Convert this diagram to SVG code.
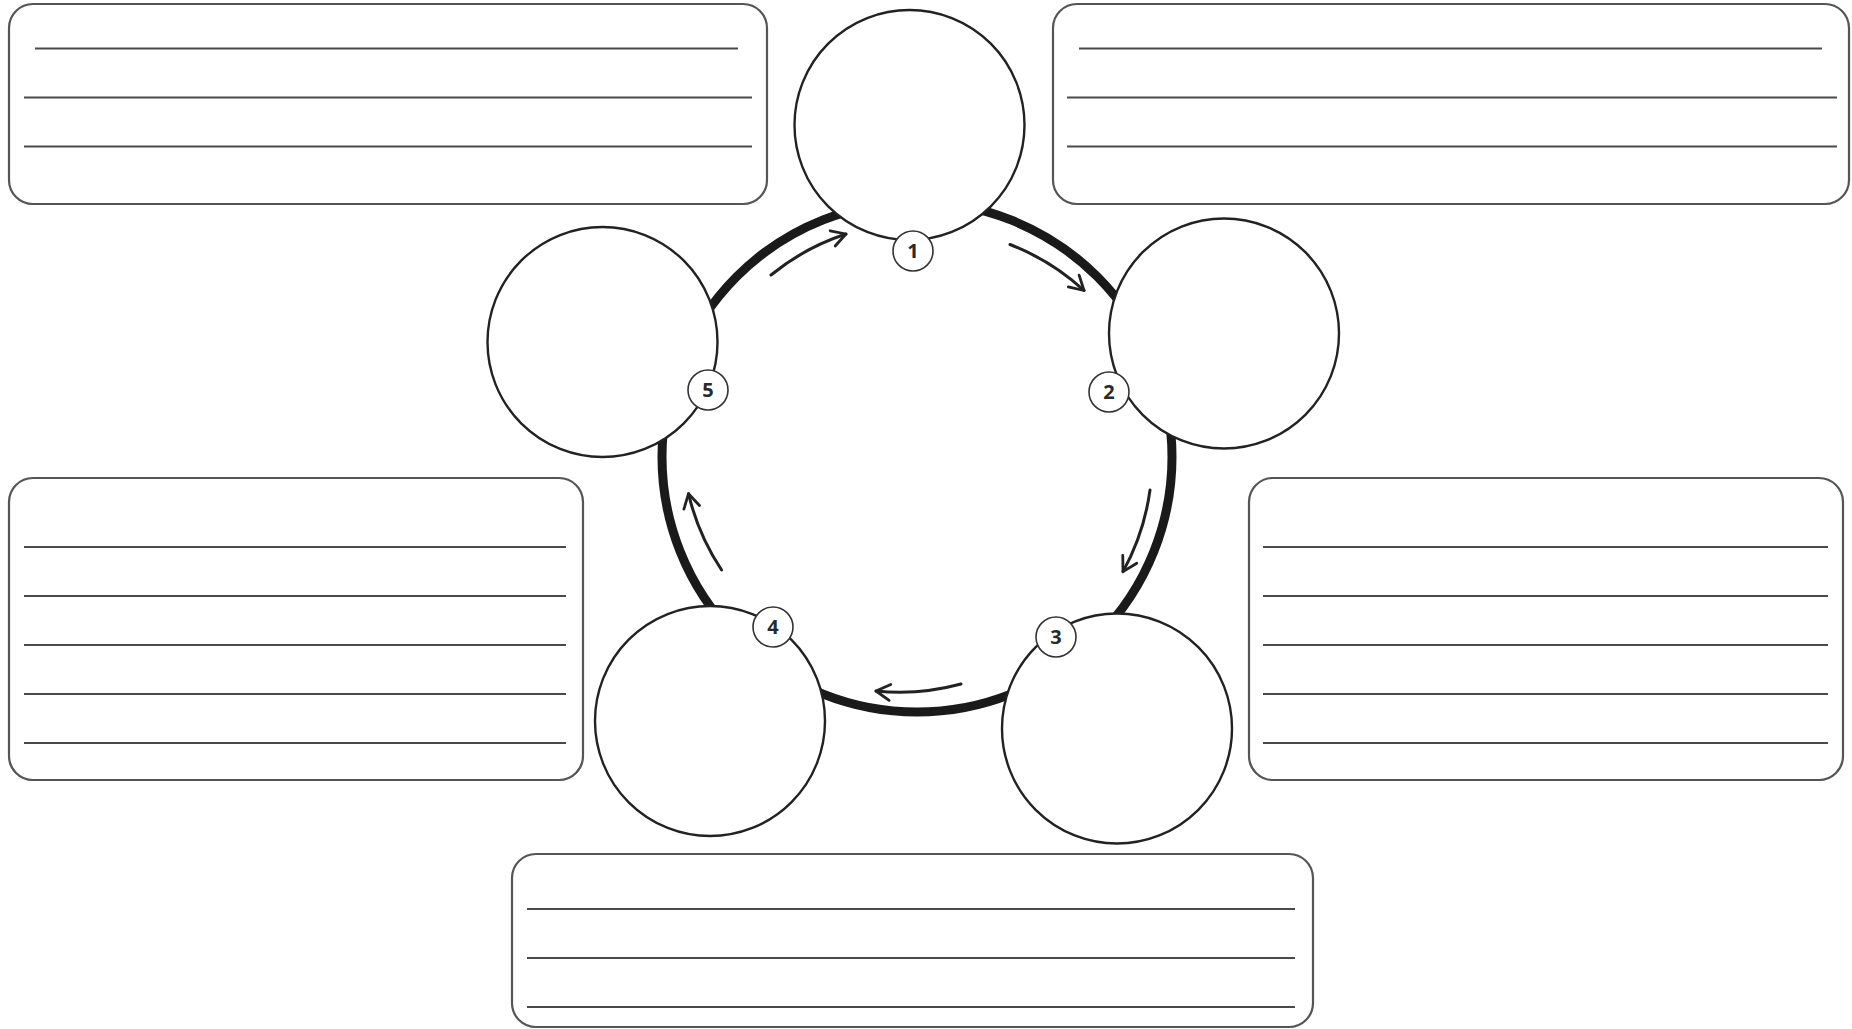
<svg xmlns="http://www.w3.org/2000/svg" width="1852" height="1029" viewBox="0 0 1852 1029">
<style>
.box{fill:#fff;stroke:#555;stroke-width:2.2}
.rule{stroke:#4a4a4a;stroke-width:2.2}
.ring{fill:none;stroke:#1a1a1a;stroke-width:9}
.arr{fill:none;stroke:#222;stroke-width:3;stroke-linecap:round}
.node{fill:#fff;stroke:#222;stroke-width:2.4}
.badge{fill:#fff;stroke:#333;stroke-width:1.6}
.num{font-family:"Open Sans","DejaVu Sans",sans-serif;font-weight:700;font-size:20px;fill:#2a2a2a;text-anchor:middle}
</style>
<defs>
<marker id="head" viewBox="-16 -10 20 20" markerWidth="20" markerHeight="20" refX="0" refY="0" orient="auto" markerUnits="userSpaceOnUse">
<path d="M-14,-8 L0,0 L-14,8" fill="none" stroke="#222" stroke-width="2.8" stroke-linecap="round" stroke-linejoin="round"/>
</marker>
</defs>
<rect width="1852" height="1029" fill="#fff"/>
<g id="box-top-left">
<rect class="box" x="9" y="4" width="758" height="200" rx="24"/>
<line class="rule" x1="35" y1="48.5" x2="738" y2="48.5"/>
<line class="rule" x1="24" y1="97.5" x2="752" y2="97.5"/>
<line class="rule" x1="24" y1="146.5" x2="752" y2="146.5"/>
</g>
<g id="box-top-right">
<rect class="box" x="1053" y="4" width="796" height="200" rx="24"/>
<line class="rule" x1="1079" y1="48.5" x2="1822" y2="48.5"/>
<line class="rule" x1="1067" y1="97.5" x2="1837" y2="97.5"/>
<line class="rule" x1="1067" y1="146.5" x2="1837" y2="146.5"/>
</g>
<g id="box-mid-left">
<rect class="box" x="9" y="478" width="574" height="302" rx="24"/>
<line class="rule" x1="24" y1="547" x2="566" y2="547"/>
<line class="rule" x1="24" y1="596" x2="566" y2="596"/>
<line class="rule" x1="24" y1="645" x2="566" y2="645"/>
<line class="rule" x1="24" y1="694" x2="566" y2="694"/>
<line class="rule" x1="24" y1="743" x2="566" y2="743"/>
</g>
<g id="box-mid-right">
<rect class="box" x="1249" y="478" width="594" height="302" rx="24"/>
<line class="rule" x1="1263" y1="547" x2="1828" y2="547"/>
<line class="rule" x1="1263" y1="596" x2="1828" y2="596"/>
<line class="rule" x1="1263" y1="645" x2="1828" y2="645"/>
<line class="rule" x1="1263" y1="694" x2="1828" y2="694"/>
<line class="rule" x1="1263" y1="743" x2="1828" y2="743"/>
</g>
<g id="box-bottom">
<rect class="box" x="512" y="854" width="801" height="173" rx="24"/>
<line class="rule" x1="527" y1="909" x2="1295" y2="909"/>
<line class="rule" x1="527" y1="958" x2="1295" y2="958"/>
<line class="rule" x1="527" y1="1007" x2="1295" y2="1007"/>
</g>
<g id="connectors">
<circle class="ring" cx="917" cy="457" r="255"/>
<path class="arr" marker-end="url(#head)" d="M771,275 A234,234 0 0 1 846,234"/>
<path class="arr" marker-end="url(#head)" d="M1010,244.5 A234,234 0 0 1 1084,290.5"/>
<path class="arr" marker-end="url(#head)" d="M1150,490 A234,234 0 0 1 1123,571.6"/>
<path class="arr" marker-end="url(#head)" d="M961,684 A234,234 0 0 1 876,691"/>
<path class="arr" marker-end="url(#head)" d="M721.6,570 A234,234 0 0 1 688.5,493.7"/>
</g>
<g id="node-1">
<circle class="node" cx="909.5" cy="125" r="115"/>
<circle class="badge" cx="913" cy="251" r="20"/>
<text class="num" x="913" y="258">1</text>
</g>
<g id="node-2">
<circle class="node" cx="1224" cy="333.5" r="115"/>
<circle class="badge" cx="1109" cy="392" r="20"/>
<text class="num" x="1109" y="399">2</text>
</g>
<g id="node-3">
<circle class="node" cx="1117" cy="728.5" r="115"/>
<circle class="badge" cx="1056" cy="637" r="20"/>
<text class="num" x="1056" y="644">3</text>
</g>
<g id="node-4">
<circle class="node" cx="710" cy="721" r="115"/>
<circle class="badge" cx="773" cy="627" r="20"/>
<text class="num" x="773" y="634">4</text>
</g>
<g id="node-5">
<circle class="node" cx="602.5" cy="342" r="115"/>
<circle class="badge" cx="708" cy="390" r="20"/>
<text class="num" x="708" y="397">5</text>
</g>
</svg>
